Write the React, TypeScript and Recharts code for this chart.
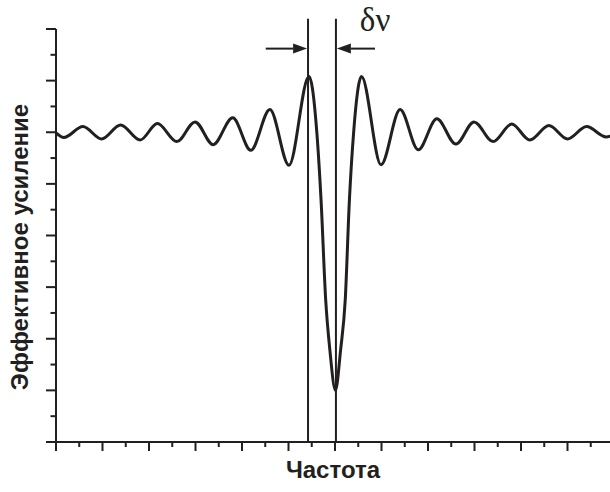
import { LineChart, Line, XAxis, YAxis, ReferenceLine, Label } from "recharts";

// frequency (x) and effective gain (y), extrema + flank points
const freq = [
  0, 0.17, 0.58, 0.98, 1.39, 1.81, 2.18, 2.6, 2.99, 3.38, 3.8, 4.19, 4.6, 5.01,
  5.44, 5.61, 5.7, 5.8, 5.89, 6.01, 6.12, 6.22, 6.31, 6.4, 6.57,
  6.99, 7.4, 7.79, 8.19, 8.6, 8.99, 9.4, 9.8, 10.19, 10.6, 11.0, 11.41, 11.83, 12,
];
const gain = [
  5.99, 5.9, 6.11, 5.87, 6.14, 5.85, 6.17, 5.82, 6.2, 5.76, 6.28, 5.65, 6.44, 5.36,
  7.08, 5.99, 4.69, 2.75, 1.78, 1.0, 1.78, 2.75, 4.69, 5.99, 7.08,
  5.37, 6.44, 5.66, 6.26, 5.77, 6.2, 5.82, 6.16, 5.85, 6.13, 5.87, 6.11, 5.91, 5.95,
];

// major ticks on whole values, minor ticks on halves
const xTicks = [
  0, 0.5, 1, 1.5, 2, 2.5, 3, 3.5, 4, 4.5, 5, 5.5, 6, 6.5, 7, 7.5, 8, 8.5, 9, 9.5,
  10, 10.5, 11, 11.5, 12,
];
const yTicks = [0, 0.5, 1, 1.5, 2, 2.5, 3, 3.5, 4, 4.5, 5, 5.5, 6, 6.5, 7, 7.5, 8];

const markerLines = [5.42, 6.02];
const markerTop = 8.2;
const arrowLevel = 7.62;
const leftArrow = [4.51, 5.4];
const rightArrow = [6.86, 6.04];

const data = freq.map((f, i) => ({ f, g: gain[i] }));

const INK = "#231f20";
const SANS = "'Liberation Sans', Arial, sans-serif";

const isMajor = (v: number) => Math.abs(v - Math.round(v)) < 1e-6;

function XTick(props: any) {
  const { x, y, payload } = props;
  const len = isMajor(payload.value) ? 9 : 5;
  return <line x1={x} x2={x} y1={y} y2={y + len} stroke={INK} strokeWidth={2} />;
}

function YTick(props: any) {
  const { x, y, payload } = props;
  const len = isMajor(payload.value) ? 10 : 5.5;
  return <line x1={x} x2={x - len} y1={y} y2={y} stroke={INK} strokeWidth={2} />;
}

function Arrow(props: any) {
  const { x1, y1, x2, y2 } = props;
  const dir = x2 > x1 ? 1 : -1;
  const head = 14;
  const half = 5;
  return (
    <g>
      <line x1={x1} y1={y1} x2={x2 - dir * head} y2={y2} stroke={INK} strokeWidth={2} />
      <polygon
        points={`${x2},${y2} ${x2 - dir * head},${y2 - half} ${x2 - dir * head},${y2 + half}`}
        fill={INK}
      />
    </g>
  );
}

function DeltaNu(props: any) {
  const { x1, y1, x2, y2 } = props;
  return (
    <g>
      <Arrow x1={x1} y1={y1} x2={x2} y2={y2} />
      <text
        x={x2 + 23}
        y={y1 - 18}
        fontFamily="'Liberation Serif', 'DejaVu Serif', serif"
        fontSize={33}
        fill={INK}
      >
        δν
      </text>
    </g>
  );
}

export default function App() {
  return (
    <div style={{ width: 610, height: 492, overflow: "hidden", position: "relative" }}>
      <style>{"body{margin:0}"}</style>
      <LineChart
        width={620}
        height={492}
        data={data}
        margin={{ top: 29, right: 6, bottom: 0, left: 0 }}
      >
        <XAxis
          dataKey="f"
          type="number"
          domain={[0, 12]}
          ticks={xTicks}
          interval={0}
          tick={XTick}
          tickSize={0}
          tickMargin={0}
          tickLine={false}
          height={50}
          axisLine={{ stroke: INK, strokeWidth: 2 }}
        >
          <Label
            content={() => (
              <text
                x={333}
                y={478}
                textAnchor="middle"
                fontFamily={SANS}
                fontWeight="bold"
                fontSize={24}
                fill={INK}
              >
                Частота
              </text>
            )}
          />
        </XAxis>
        <YAxis
          type="number"
          domain={[0, 8]}
          ticks={yTicks}
          interval={0}
          tick={YTick}
          tickSize={0}
          tickMargin={0}
          tickLine={false}
          width={56}
          axisLine={{ stroke: INK, strokeWidth: 2 }}
        >
          <Label
            content={() => (
              <text
                transform="translate(28,247) rotate(-90)"
                textAnchor="middle"
                fontFamily={SANS}
                fontWeight="bold"
                fontSize={24}
                fill={INK}
              >
                Эффективное усиление
              </text>
            )}
          />
        </YAxis>
        {markerLines.map((m) => (
          <ReferenceLine
            key={m}
            segment={[
              { x: m, y: 0 },
              { x: m, y: markerTop },
            ]}
            ifOverflow="visible"
            stroke={INK}
            strokeWidth={2}
          />
        ))}
        <ReferenceLine
          segment={[
            { x: leftArrow[0], y: arrowLevel },
            { x: leftArrow[1], y: arrowLevel },
          ]}
          ifOverflow="visible"
          shape={Arrow}
        />
        <ReferenceLine
          segment={[
            { x: rightArrow[0], y: arrowLevel },
            { x: rightArrow[1], y: arrowLevel },
          ]}
          ifOverflow="visible"
          shape={DeltaNu}
        />
        <Line
          type="monotone"
          dataKey="g"
          stroke={INK}
          strokeWidth={3}
          dot={false}
          isAnimationActive={false}
        />
      </LineChart>
    </div>
  );
}
